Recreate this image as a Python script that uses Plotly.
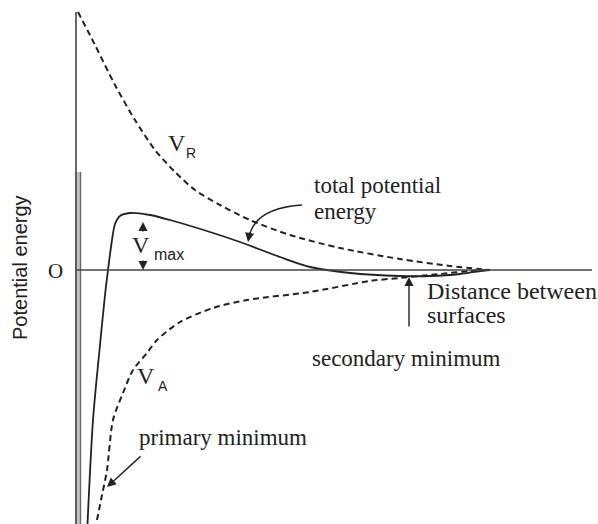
import plotly.graph_objects as go

# Interaction energy between two surfaces (arbitrary units)
# distance along x, energy along y; zero energy is the horizontal axis
vr_x = [0.02, 0.36, 0.76, 1.16, 1.56, 1.96, 2.36, 2.86, 3.46, 4.26, 5.26, 6.46, 7.46, 8.26]
vr_y = [5.16, 4.5, 3.7, 3.0, 2.4, 1.96, 1.6, 1.3, 1.0, 0.7, 0.44, 0.22, 0.08, 0.0]

va_x = [0.4, 0.5, 0.6, 0.72, 0.92, 1.12, 1.4, 1.6, 2.06, 2.72, 3.4, 4.66, 5.86, 6.46, 7.26, 7.86, 8.26]
va_y = [-5.0, -4.5, -4.0, -3.0, -2.46, -2.0, -1.66, -1.4, -1.04, -0.76, -0.6, -0.44, -0.22, -0.16, -0.08, -0.02, 0.0]

vt_x = [0.2, 0.32, 0.46, 0.56, 0.62, 0.7, 0.76, 0.86, 1.06, 1.46, 1.86, 2.66, 3.26, 4.06, 4.66, 5.46, 6.46, 7.06, 7.66, 8.06, 8.26]
vt_y = [-5.3, -3.0, -1.5, -0.5, 0.0, 0.6, 0.92, 1.08, 1.14, 1.1, 1.0, 0.76, 0.56, 0.26, 0.06, -0.06, -0.12, -0.12, -0.08, -0.02, 0.0]

INK = "#222222"
SERIF = "Liberation Serif, Times New Roman, serif"
SANS = "Liberation Sans, Arial, sans-serif"

fig = go.Figure()

dash_style = dict(color=INK, width=2, dash="6px,4px")
fig.add_trace(go.Scatter(x=vr_x, y=vr_y, mode="lines", line=dict(**dash_style, shape="spline", smoothing=0.8),
                         hoverinfo="skip"))
fig.add_trace(go.Scatter(x=va_x, y=va_y, mode="lines", line=dict(**dash_style, shape="spline", smoothing=0.8),
                         hoverinfo="skip"))
fig.add_trace(go.Scatter(x=vt_x, y=vt_y, mode="lines",
                         line=dict(color=INK, width=1.8, shape="spline", smoothing=0.8),
                         hoverinfo="skip"))

# axes drawn as plain lines
shapes = [
    dict(type="rect", x0=-0.04, x1=0.08, y0=-5.4, y1=1.96, fillcolor="#c4c4c4", line=dict(width=0), layer="below"),
    dict(type="line", x0=-0.02, x1=-0.02, y0=-5.4, y1=5.16, line=dict(color="#444444", width=1.6)),
    dict(type="line", x0=0.07, x1=0.07, y0=-5.4, y1=1.96, line=dict(color="#666666", width=1.4)),
    dict(type="line", x0=-0.02, x1=10.3, y0=0, y1=0, line=dict(color="#444444", width=1.6)),
    # curved pointer to the total curve
    dict(type="path", path="M 4.5 1.3 Q 3.56 1.24 3.44 0.66", line=dict(color=INK, width=1.4)),
]

def arrow(x, y, ax, ay, size=1.3):
    return dict(x=x, y=y, ax=ax, ay=ay, xref="x", yref="y", axref="x", ayref="y",
                text="", showarrow=True, arrowhead=2, arrowsize=size, arrowwidth=1.4,
                arrowcolor=INK)

def label(text, x, y, size, family=SERIF, xanchor="left"):
    return dict(x=x, y=y, xref="x", yref="y", text=text, showarrow=False,
                xanchor=xanchor, yanchor="middle", font=dict(family=family, size=size, color=INK))

annotations = [
    arrow(1.32, 0.96, 1.32, 0.74),
    arrow(1.32, 0.0, 1.32, 0.22),
    arrow(3.42, 0.56, 3.46, 0.78),
    arrow(0.6, -4.34, 1.3, -3.7),
    arrow(6.64, -0.14, 6.64, -1.16),
    label("V", 2.0, 2.54, 24, xanchor="center"),
    label("R", 2.28, 2.34, 14, family=SANS, xanchor="center"),
    label("V", 1.38, -2.12, 24, xanchor="center"),
    label("A", 1.72, -2.32, 14, family=SANS, xanchor="center"),
    label("V", 1.28, 0.5, 24, xanchor="center"),
    label("max", 1.5, 0.32, 16, family=SANS),
    label("total potential", 4.7, 1.7, 23),
    label("energy", 4.7, 1.18, 23),
    label("Distance between", 6.96, -0.42, 24),
    label("surfaces", 6.96, -0.9, 24),
    label("secondary minimum", 4.66, -1.76, 23),
    label("primary minimum", 1.2, -3.34, 23),
    label("O", -0.44, -0.02, 21, xanchor="center"),
    dict(x=-1.14, y=0.04, xref="x", yref="y", text="Potential energy", showarrow=False,
         textangle=-90, font=dict(family=SANS, size=20, color=INK)),
]

fig.update_layout(
    width=598, height=524,
    margin=dict(l=0, r=0, t=0, b=0),
    paper_bgcolor="white", plot_bgcolor="white",
    showlegend=False,
    xaxis=dict(visible=False, range=[-1.54, 10.42], fixedrange=True),
    yaxis=dict(visible=False, range=[-5.08, 5.4], fixedrange=True),
    shapes=shapes,
    annotations=annotations,
)

fig.write_html("out.html")
